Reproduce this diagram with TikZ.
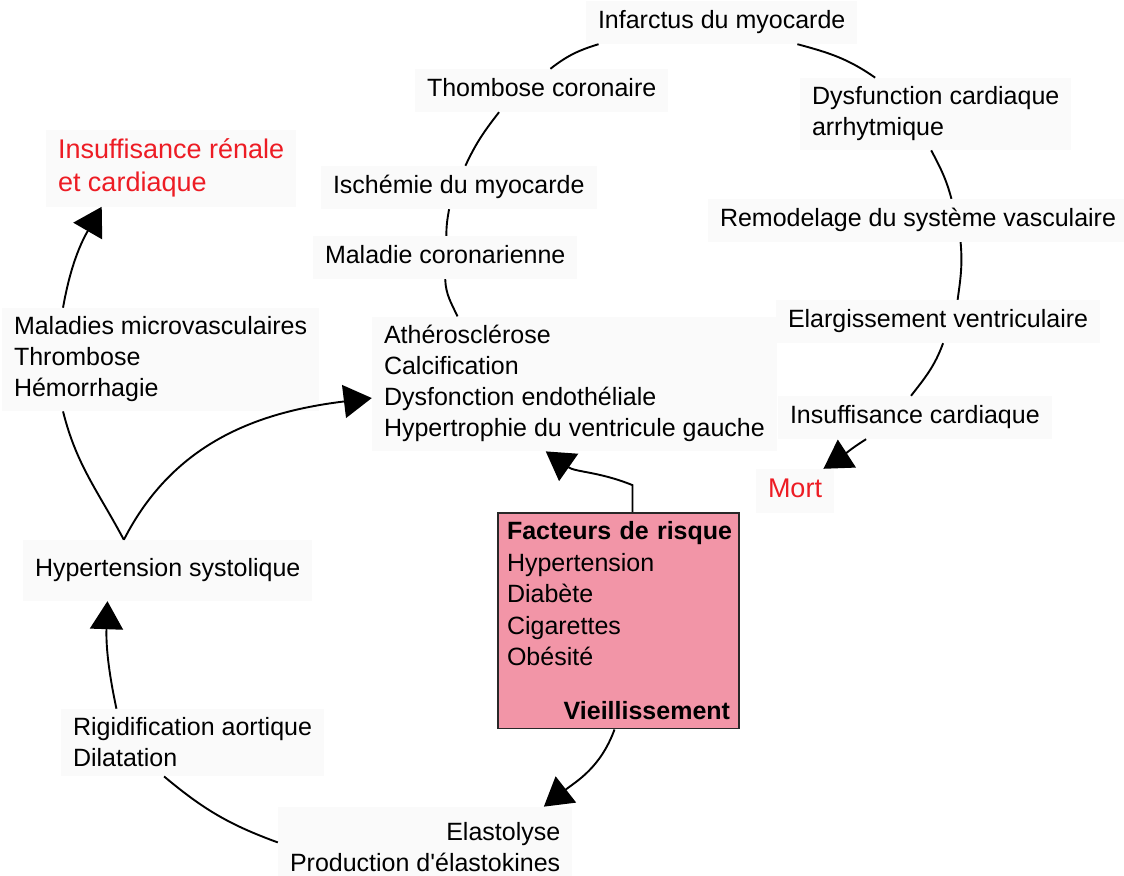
\documentclass[tikz,border=0pt]{standalone}
\usepackage{fontspec}
\setmainfont{Liberation Sans}[Ligatures=TeXOff]
\usetikzlibrary{arrows.meta}
\definecolor{boxgray}{RGB}{250,250,250}
\definecolor{riskpink}{RGB}{242,149,167}
\definecolor{alertred}{RGB}{237,28,36}
\definecolor{rimgray}{RGB}{40,40,40}
\tikzset{
  lbl/.style={fill=boxgray, inner xsep=12bp, inner ysep=9bp, align=left,
    anchor=text, font=\fontsize{25bp}{31bp}\selectfont},
  one/.style={text height=19bp, text depth=6bp},
  alert/.style={text=alertred, font=\fontsize{27bp}{33bp}\selectfont},
  link/.style={line width=1.9bp},
  arr/.style={link, -{Triangle[length=28bp,width=33bp]}},
  riskbox/.style={fill=riskpink, draw=rimgray, line width=1.5bp,
    inner xsep=9bp, inner ysep=9bp, text width=223bp, align=left,
    anchor=text, font=\fontsize{25bp}{31.5bp}\selectfont}
}
\begin{document}
\begin{tikzpicture}[x=1bp, y=1bp]
      \useasboundingbox (0,0) rectangle (1124,876);
      % ring of cardiac events
      \node[lbl,one] (inf) at (598,847) {Infarctus du myocarde};
      \node[lbl,one] (thromb) at (427,779) {Thombose coronaire};
      \node[lbl] (dysf) at (812,740) {Dysfunction cardiaque\\arrhytmique};
      \node[lbl,one] (isch) at (333,682) {Ischémie du myocarde};
      \node[lbl,one] (remod) at (720,649) {Remodelage du système vasculaire};
      \node[lbl,one] (malad) at (325,612) {Maladie coronarienne};
      \node[lbl] (ather) at (384,439) {Athérosclérose\\Calcification\\Dysfonction endothéliale\\Hypertrophie du ventricule gauche};
      \node[lbl,one] (elarg) at (788,548) {Elargissement ventriculaire};
      \node[lbl,one] (insuf) at (790,452) {Insuffisance cardiaque};
      \node[lbl,one,alert,text height=20bp] (mort) at (768,378) {Mort};
      % left branch
      \node[lbl,alert] (renal) at (58,684) {Insuffisance rénale\\et cardiaque};
      \node[lbl] (micro) at (14,479) {Maladies microvasculaires\\Thrombose\\Hémorrhagie};
      \node[lbl,one,inner ysep=18bp] (hts) at (35,299) {Hypertension systolique};
      \node[lbl] (rigid) at (73,109) {Rigidification aortique\\Dilatation};
      \node[lbl,align=right,inner ysep=16bp] (elast) at (290,4) {Elastolyse\\Production d'élastokines};
      % risk factors
      \node[riskbox] (risk) at (507,336) {\mbox{\textbf{Facteurs de risque}}\\Hypertension\\Diabète\\Cigarettes\\Obésité\\[22bp]\hfill\textbf{Vieillissement}};
      \begin{scope}[link]
        \draw (inf.190) to[out=197,in=38] (thromb.68);
        \draw (thromb.207) to[out=232,in=65] (isch.73);
        \draw (isch.246) to[out=260,in=90] (malad.87);
        \draw (malad.south) to[out=272,in=115] (ather.150);
        \draw (inf.344) to[out=345,in=145] (dysf.149);
        \draw (dysf.263) to[out=298,in=105] (remod.33);
        \draw (remod.333) to[out=275,in=82] (elarg.48);
        \draw (elarg.283) to[out=250,in=52] (insuf.100);
        \draw[arr] (insuf.204) to[out=212,in=33] (mort.38);
        \draw[arr] ([xshift=14bp]risk.north) -- ++(0,27) to[out=158,in=-35] (ather.247);
        \draw[arr] ([xshift=-4bp]risk.south) to[out=250,in=38] (elast.19);
        \draw (rigid.230) to[out=-40,in=160] (elast.178);
        \draw[arr] (rigid.156) to[out=102,in=268] (hts.207);
        \draw (hts.145) to[out=118,in=-76] (micro.208);
        \draw[arr] (micro.152) to[out=80,in=240] (renal.209);
        \draw[arr] (hts.145) to[out=63,in=187] (ather.184);
      \end{scope}
\end{tikzpicture}
\end{document}
